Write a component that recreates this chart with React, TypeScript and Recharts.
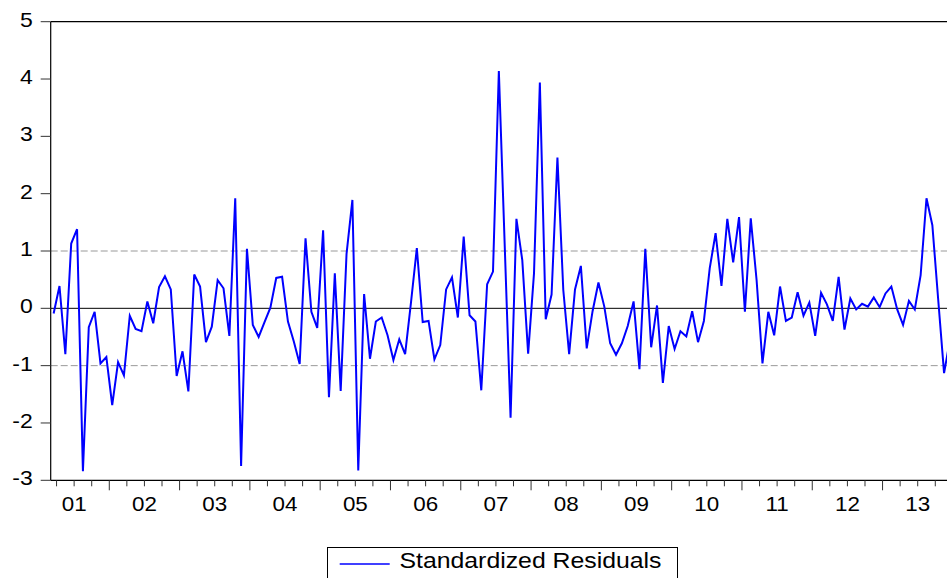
import React from 'react';
import { LineChart, Line, XAxis, YAxis, ReferenceLine } from 'recharts';

// Monthly standardized residuals, starting 2001M03
const residuals: number[] = [
  -0.09, 0.39, -0.80, 1.13, 1.38, -2.84, -0.33, -0.06, -0.96, -0.85,
  -1.69, -0.94, -1.17, -0.13, -0.36, -0.40, 0.12, -0.26, 0.37, 0.56,
  0.33, -1.18, -0.75, -1.45, 0.59, 0.38, -0.59, -0.32, 0.49, 0.35,
  -0.48, 1.92, -2.75, 1.04, -0.29, -0.50, -0.24, 0.01, 0.53, 0.55,
  -0.23, -0.58, -0.97, 1.22, -0.06, -0.34, 1.36, -1.55, 0.61, -1.44,
  0.95, 1.89, -2.83, 0.25, -0.88, -0.23, -0.16, -0.47, -0.90, -0.54,
  -0.80, 0.10, 1.05, -0.24, -0.22, -0.89, -0.64, 0.33, 0.54, -0.16,
  1.25, -0.12, -0.23, -1.43, 0.42, 0.64, 4.14, 1.10, -1.91, 1.56,
  0.84, -0.79, 0.61, 3.94, -0.19, 0.24, 2.63, 0.32, -0.80, 0.33,
  0.74, -0.70, -0.05, 0.45, 0.03, -0.61, -0.81, -0.61, -0.31, 0.12,
  -1.06, 1.04, -0.68, 0.05, -1.30, -0.31, -0.71, -0.40, -0.49, -0.05,
  -0.59, -0.22, 0.70, 1.31, 0.39, 1.56, 0.80, 1.59, -0.06, 1.57,
  0.49, -0.96, -0.06, -0.47, 0.38, -0.22, -0.16, 0.28, -0.13, 0.10,
  -0.48, 0.27, 0.07, -0.22, 0.55, -0.37, 0.17, -0.02, 0.08, 0.03,
  0.19, 0.02, 0.26, 0.38, -0.02, -0.29, 0.13, -0.02, 0.58, 1.92,
  1.45, 0.15, -1.13, -0.55,
];

const yearLabels = ['01', '02', '03', '04', '05', '06', '07', '08', '09', '10', '11', '12', '13'];
const yTicks = [-3, -2, -1, 0, 1, 2, 3, 4, 5];
const firstMonth = 3; // March 2001
const seriesName = 'Standardized Residuals';

const data = residuals.map((v, i) => ({ t: i, v }));

const X_MIN = -0.5;
const X_MAX = 152.5;

// quarter boundaries (start of Jan/Apr/Jul/Oct), in month-index units
const quarterTicks: number[] = [];
for (let k = 0; k < 14 * 12; k++) {
  const calMonth = (k + firstMonth - 1) % 12; // 0 = Jan
  const pos = k - 0.5;
  if (calMonth % 3 === 0 && pos > X_MIN && pos < X_MAX) quarterTicks.push(pos);
}

if (typeof document !== 'undefined') {
  document.body.style.margin = '0';
}

const FONT = '"Liberation Sans", Arial, sans-serif';

const XTick = (props: any) => {
  const { x, y, payload } = props;
  const k = Math.round(payload.value + 0.5);
  const calMonth = (k + firstMonth - 1) % 12;
  const yearIdx = Math.floor((k + firstMonth - 1) / 12);
  const major = calMonth === 0;
  const showLabel = calMonth === 6 && yearIdx < yearLabels.length;
  return (
    <g>
      <line x1={x} x2={x} y1={y} y2={y + (major ? 10 : 6)} stroke="#333" strokeWidth={1} />
      {showLabel && (
        <g transform={`translate(${x},${y + 31})`}>
          <text transform="scale(1.12,1)" textAnchor="middle" fontSize={20} fontFamily={FONT} fill="#000">
            {yearLabels[yearIdx]}
          </text>
        </g>
      )}
    </g>
  );
};

const YTick = (props: any) => {
  const { x, y, payload } = props;
  return (
    <g transform={`translate(${x},${y - 2})`}>
      <text transform="scale(1.15,1)" textAnchor="end" dy="0.355em" fontSize={20} fontFamily={FONT} fill="#000">
        {payload.value}
      </text>
    </g>
  );
};

export default function App() {
  return (
    <div style={{ position: 'relative', width: 947, height: 578, overflow: 'hidden', fontFamily: FONT, background: '#fff' }}>
      <LineChart
        width={947}
        height={578}
        data={data}
        margin={{ top: 21.7, right: 0, left: 8, bottom: 67.7 }}
      >
        <XAxis
          dataKey="t"
          type="number"
          domain={[X_MIN, X_MAX]}
          allowDataOverflow
          ticks={quarterTicks}
          interval={0}
          height={30}
          tickSize={0}
          tickMargin={0}
          tick={<XTick />}
          axisLine={{ stroke: '#000', strokeWidth: 1.2 }}
        />
        <YAxis
          type="number"
          domain={[-3, 5]}
          ticks={yTicks}
          interval={0}
          width={42.7}
          tickSize={10}
          tickMargin={8}
          tick={<YTick />}
          tickLine={{ stroke: '#333', strokeWidth: 1 }}
          axisLine={{ stroke: '#000', strokeWidth: 1.2 }}
          allowDataOverflow
        />
        <ReferenceLine y={5} stroke="#000" strokeWidth={1.2} />
        <ReferenceLine y={1} stroke="#999" strokeWidth={1} strokeDasharray="7 3" />
        <ReferenceLine y={-1} stroke="#999" strokeWidth={1} strokeDasharray="7 3" />
        <ReferenceLine y={0} stroke="#000" strokeWidth={1} />
        <Line
          type="linear"
          dataKey="v"
          name={seriesName}
          stroke="#0000FF"
          strokeWidth={2}
          dot={false}
          activeDot={false}
          isAnimationActive={false}
        />
      </LineChart>
      <svg
        width={352}
        height={40}
        style={{ position: 'absolute', left: 327.3, top: 547.3 }}
      >
        <rect x={0.5} y={0.5} width={350} height={60} fill="#fff" stroke="#000" strokeWidth={1} />
        <line x1={12.7} x2={62.7} y1={17} y2={17} stroke="#0000FF" strokeWidth={1.5} />
        <text x={72.5} y={20.8} fontSize={22} fontFamily={FONT} fill="#000" textLength={262} lengthAdjust="spacingAndGlyphs">
          {seriesName}
        </text>
      </svg>
    </div>
  );
}
